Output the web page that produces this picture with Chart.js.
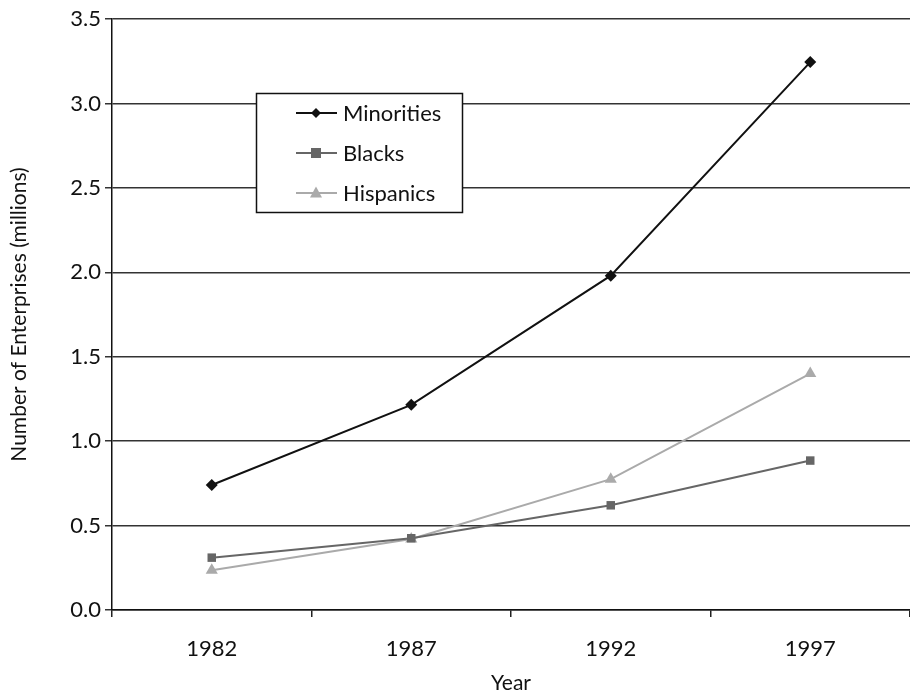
<!DOCTYPE html>
<html>
<head>
<meta charset="utf-8">
<script src="https://cdn.jsdelivr.net/npm/chart.js@4.4.1/dist/chart.umd.min.js"></script>
<style>
  html, body { margin: 0; padding: 0; background: #fff; overflow: hidden; }
  #wrap { width: 910px; height: 696px; position: relative; overflow: hidden; }
</style>
</head>
<body>
<div id="wrap"><canvas id="c" width="917" height="696"></canvas></div>
<script>
// ---- data ----
const categories = ['1982', '1987', '1992', '1997'];
const minorities = [0.74, 1.215, 1.98, 3.245];
const blacks = [0.31, 0.425, 0.62, 0.885];
const hispanics = [0.235, 0.42, 0.775, 1.40];
const seriesLabels = ['Minorities', 'Blacks', 'Hispanics'];
const yTicks = [0, 0.5, 1.0, 1.5, 2.0, 2.5, 3.0, 3.5];
const xTitle = 'Year';
const yTitle = 'Number of Enterprises (millions)';

const FONT = 'Lato, "Noto Sans", sans-serif';

function drawMarker(ctx, style, x, y, r, color) {
  ctx.save();
  ctx.fillStyle = color;
  ctx.beginPath();
  if (style === 'rectRot') {
    ctx.moveTo(x, y - r); ctx.lineTo(x + r, y); ctx.lineTo(x, y + r); ctx.lineTo(x - r, y);
  } else if (style === 'rect') {
    ctx.rect(x - r, y - r, 2 * r, 2 * r);
  } else if (style === 'triangle') {
    ctx.moveTo(x, y - r * 1.1); ctx.lineTo(x + r, y + r * 0.75); ctx.lineTo(x - r, y + r * 0.75);
  }
  ctx.closePath();
  ctx.fill();
  ctx.restore();
}

const boxLegend = {
  id: 'boxLegend',
  afterDraw(chart) {
    const ctx = chart.ctx;
    const a = chart.chartArea;
    const bx = a.left + 144, by = a.top + 74, bw = 207, bh = 120;
    ctx.save();
    ctx.fillStyle = '#fff';
    ctx.fillRect(bx, by, bw, bh);
    ctx.strokeStyle = '#111';
    ctx.lineWidth = 1.5;
    ctx.strokeRect(bx + 0.5, by + 0.5, bw - 1, bh - 1);
    ctx.font = '22px ' + FONT;
    ctx.textBaseline = 'middle';
    chart.data.datasets.forEach((ds, i) => {
      const y = by + 20 + i * 40;
      ctx.strokeStyle = ds.borderColor;
      ctx.lineWidth = ds.borderWidth;
      ctx.beginPath();
      ctx.moveTo(bx + 40, y); ctx.lineTo(bx + 81, y);
      ctx.stroke();
      drawMarker(ctx, ds.pointStyle, bx + 60, y, ds.legendMarkerR, ds.pointBackgroundColor);
      ctx.fillStyle = '#111';
      ctx.fillText(ds.label, bx + 87, y + 1);
    });
    ctx.restore();
  }
};

new Chart(document.getElementById('c'), {
  type: 'line',
  data: {
    labels: categories,
    datasets: [
      { label: seriesLabels[0], data: minorities, borderColor: '#111', backgroundColor: '#111',
        pointBackgroundColor: '#111', pointBorderWidth: 0, pointStyle: 'rectRot', pointRadius: 6,
        borderWidth: 2, tension: 0, legendMarkerR: 5 },
      { label: seriesLabels[1], data: blacks, borderColor: '#666', backgroundColor: '#666',
        pointBackgroundColor: '#666', pointBorderWidth: 0, pointStyle: 'rect', pointRadius: 6,
        borderWidth: 2, tension: 0, legendMarkerR: 5 },
      { label: seriesLabels[2], data: hispanics, borderColor: '#aaa', backgroundColor: '#aaa',
        pointBackgroundColor: '#aaa', pointBorderWidth: 0, pointStyle: 'triangle', pointRadius: 7,
        borderWidth: 2, tension: 0, legendMarkerR: 6 }
    ]
  },
  options: {
    responsive: false,
    animation: false,
    layout: { padding: { top: 19, right: 0, left: 0, bottom: 0 } },
    plugins: { legend: { display: false }, tooltip: { enabled: false } },
    scales: {
      x: {
        offset: true,
        grid: { offset: true, drawOnChartArea: false, drawTicks: true, tickLength: 7, color: '#222', lineWidth: 1.5 },
        border: { display: true, color: '#111', width: 1.5 },
        ticks: { color: '#111', font: { family: FONT, size: 22 }, padding: 19, maxRotation: 0 },
        title: { display: true, text: xTitle, color: '#111', font: { family: FONT, size: 21 }, padding: { top: 4, bottom: 0 } },
        afterFit: s => { s.height = 86; }
      },
      y: {
        min: 0, max: 3.5,
        afterBuildTicks: s => { s.ticks = yTicks.map(v => ({ value: v })); },
        grid: { color: '#333', lineWidth: 1.5, drawTicks: true, tickLength: 7 },
        border: { display: true, color: '#111', width: 1.5 },
        ticks: { color: '#111', font: { family: FONT, size: 22 }, padding: 4,
                 callback: v => Number(v).toFixed(1) },
        title: { display: true, text: yTitle, color: '#111', font: { family: FONT, size: 21 }, padding: { top: 7, bottom: 12 } },
        afterFit: s => { s.width = 112; }
      }
    }
  },
  plugins: [boxLegend]
});
</script>
</body>
</html>
